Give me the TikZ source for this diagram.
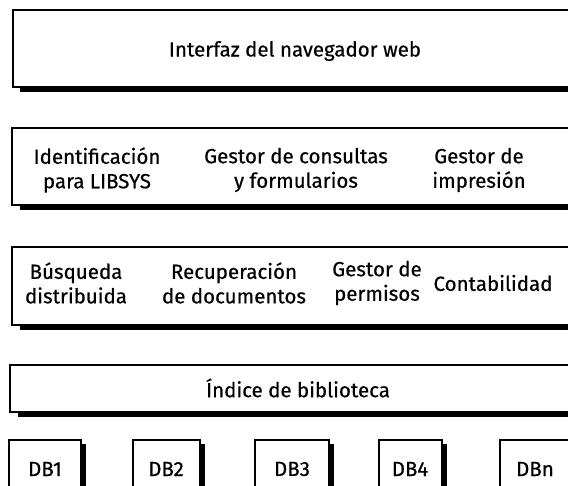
\documentclass[tikz,border=0pt]{standalone}
\usepackage{fontspec}
\setmainfont{Fira Sans}
\newfontfamily\lblfont{Fira Sans}[FakeBold=0.5]
\begin{document}
\begin{tikzpicture}[x=1pt,y=-1pt,
  layerbox/.style={draw=black,line width=1.6pt,fill=white},
  shadowband/.style={fill=black},
  lbl/.style={font=\lblfont\fontsize{20.5}{24.5}\selectfont,align=center,inner sep=0pt}]
\useasboundingbox (0,0) rectangle (568,486);
\clip (0,0) rectangle (568,486);
% layer 1
\fill[shadowband] (20,86) rectangle (600,92);
\draw[layerbox] (13,10) rectangle (600,87);
\node[lbl] (web) at (295,51) {Interfaz del navegador web};
% layer 2
\fill[shadowband] (20,204) rectangle (600,210);
\draw[layerbox] (12,128) rectangle (600,205);
\node[lbl] (ident) at (97,170) {Identificación\\para LIBSYS};
\node[lbl] (consul) at (296,170) {Gestor de consultas\\y formularios};
\node[lbl] (impr) at (479,170) {Gestor de\\impresión};
% layer 3
\fill[shadowband] (20,324) rectangle (600,330);
\draw[layerbox] (12,247) rectangle (600,325);
\node[lbl] (busq) at (76,283) {Búsqueda\\distribuida};
\node[lbl] (recup) at (234,283) {Recuperación\\de documentos};
\node[lbl] (perm) at (377,283) {Gestor de\\permisos};
\node[lbl] (conta) at (493,283) {Contabilidad};
% layer 4
\fill[shadowband] (18,411) rectangle (600,417);
\draw[layerbox] (10,365) rectangle (600,412);
\node[lbl] (indice) at (298,388) {Índice de biblioteca};
% databases
\foreach \l/\r in {9/81,133/200,255/329,379/442,500/620}{
  \fill[shadowband] (\r-1,444) rectangle (\r+5,500);
  \draw[layerbox] (\l,440) rectangle (\r,500);
}
\node[lbl] (db1) at (45,469) {DB1};
\node[lbl] (db2) at (166,469) {DB2};
\node[lbl] (db3) at (292,469) {DB3};
\node[lbl] (db4) at (410,469) {DB4};
\node[lbl] (dbn) at (535,469) {DBn};
\end{tikzpicture}
\end{document}
